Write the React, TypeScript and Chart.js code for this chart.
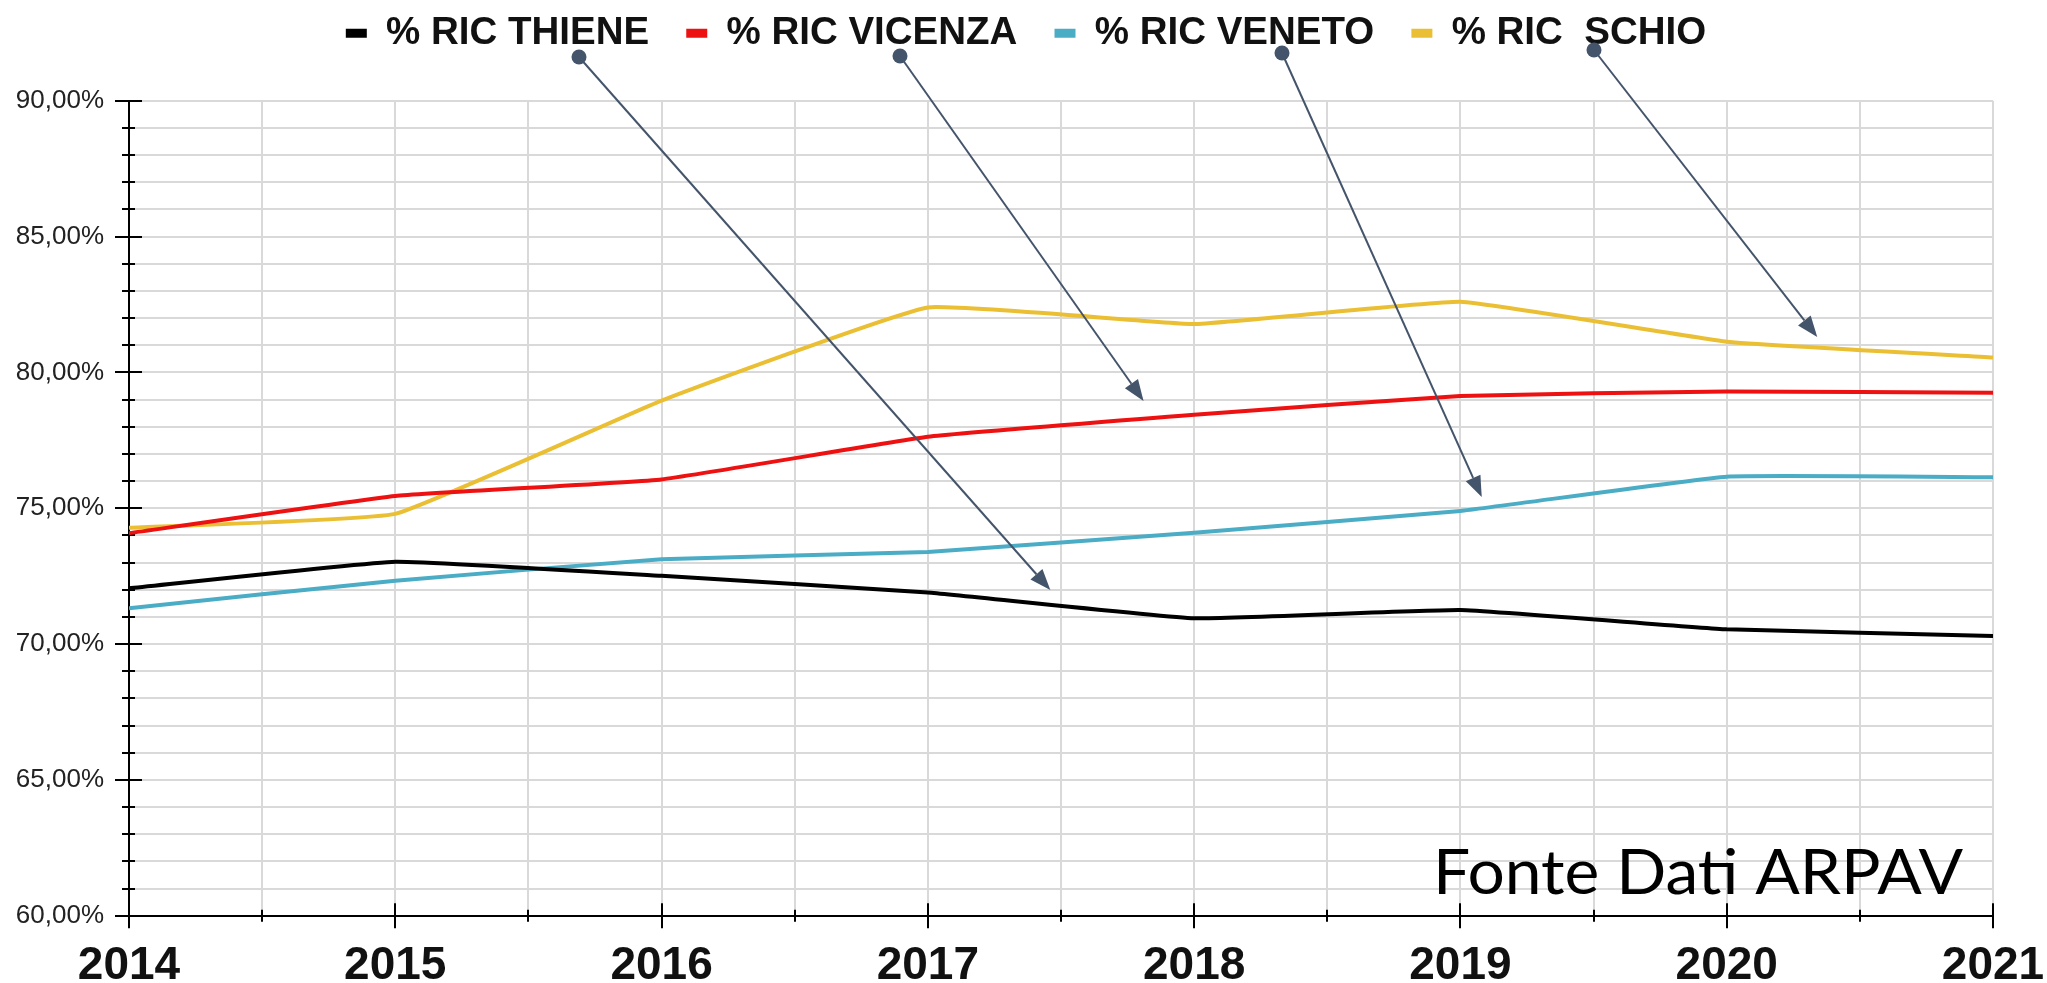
import React, { useEffect, useRef } from 'react';
import { Chart, registerables } from 'chart.js';

Chart.register(...registerables);

// ---- data ----
const years = [2014, 2015, 2016, 2017, 2018, 2019, 2020, 2021];
const seriesLabels = ['% RIC THIENE', '% RIC VICENZA', '% RIC VENETO', '% RIC  SCHIO'];
const thiene = [72.05, 73.03, 72.51, 71.9, 70.95, 71.25, 70.54, 70.3];
const vicenza = [74.08, 75.45, 76.06, 77.63, 78.44, 79.13, 79.3, 79.25];
const veneto = [71.32, 72.33, 73.12, 73.39, 74.1, 74.9, 76.16, 76.14];
const schio = [74.28, 74.79, 78.96, 82.39, 81.78, 82.6, 81.13, 80.55];
const seriesColors = ['#000000', '#ee1111', '#4bacc6', '#ebbf33'];
const yMin = 60;
const yMax = 90;
const sourceNote = 'Fonte Dati ARPAV';
// annotation arrows: start dot (canvas px, below legend), tip in data coords [year, %]
const arrowStarts = [[579, 57], [900, 56], [1282, 53], [1594, 50]];
const arrowTips = [[2017.46, 71.99], [2017.81, 78.95], [2019.08, 75.41], [2020.34, 81.3]];

const allSeries = [thiene, vicenza, veneto, schio];

const FONT = "'Liberation Sans', Arial, Helvetica, sans-serif";
const PLOT_TOP = 100.7;
const PLOT_LEFT = 129;
const PLOT_RIGHT_MARGIN = 54;
const PAD = { top: 9, left: 5, right: 0, bottom: 0 };

const axisTicksPlugin = {
  id: 'axisTicks',
  beforeDatasetsDraw(chart: any) {
    const { ctx, scales, chartArea } = chart;
    const x = scales.x;
    const y = scales.y;
    ctx.save();
    ctx.strokeStyle = '#000';
    ctx.lineWidth = 2;
    for (let v = yMin; v <= yMax; v += 1) {
      const py = Math.round(y.getPixelForValue(v));
      const major = v % 5 === 0;
      const l = major ? 14 : 7;
      const r = major ? 13 : 6;
      ctx.beginPath();
      ctx.moveTo(chartArea.left - l, py);
      ctx.lineTo(chartArea.left + r, py);
      ctx.stroke();
    }
    const first = years[0];
    const last = years[years.length - 1];
    for (let v = first; v <= last + 1e-9; v += 0.5) {
      const px = Math.round(x.getPixelForValue(v));
      const major = Number.isInteger(v);
      const h = major ? 12.5 : 6;
      ctx.beginPath();
      ctx.moveTo(px, chartArea.bottom - h);
      ctx.lineTo(px, chartArea.bottom + h);
      ctx.stroke();
    }
    ctx.restore();
  },
};

const annotationsPlugin = {
  id: 'arrowsAndNote',
  afterDatasetsDraw(chart: any) {
    const { ctx, scales, chartArea } = chart;
    const x = scales.x;
    const y = scales.y;
    ctx.save();
    const col = '#44546a';
    ctx.strokeStyle = col;
    ctx.fillStyle = col;
    ctx.lineWidth = 2;
    for (let i = 0; i < arrowStarts.length; i++) {
      const [sx, sy] = arrowStarts[i];
      const tx = x.getPixelForValue(arrowTips[i][0]);
      const ty = y.getPixelForValue(arrowTips[i][1]);
      const ang = Math.atan2(ty - sy, tx - sx);
      const headLen = 21;
      const headHalf = 8;
      const bx = tx - headLen * Math.cos(ang);
      const by = ty - headLen * Math.sin(ang);
      ctx.beginPath();
      ctx.moveTo(sx, sy);
      ctx.lineTo(bx, by);
      ctx.stroke();
      ctx.beginPath();
      ctx.moveTo(tx, ty);
      ctx.lineTo(bx + headHalf * Math.sin(ang), by - headHalf * Math.cos(ang));
      ctx.lineTo(bx - headHalf * Math.sin(ang), by + headHalf * Math.cos(ang));
      ctx.closePath();
      ctx.fill();
      ctx.beginPath();
      ctx.arc(sx, sy, 7.5, 0, Math.PI * 2);
      ctx.fill();
    }
    // source note
    ctx.font = "62px Lato, 'Open Sans', sans-serif";
    ctx.fillStyle = '#000';
    ctx.textBaseline = 'alphabetic';
    ctx.textAlign = 'left';
    const w = ctx.measureText(sourceNote).width;
    const target = 530;
    ctx.translate(chartArea.right - 30 - target, chartArea.bottom - 21.5);
    ctx.scale(target / w, 1);
    ctx.fillText(sourceNote, 0, 0);
    ctx.restore();
  },
};

export default function App() {
  const canvasRef = useRef<HTMLCanvasElement | null>(null);

  useEffect(() => {
    const canvas = canvasRef.current;
    if (!canvas) return;
    const chart = new Chart(canvas, {
      type: 'line',
      data: {
        datasets: allSeries.map((vals, i) => ({
          label: seriesLabels[i],
          data: years.map((yr, j) => ({ x: yr, y: vals[j] })),
          borderColor: seriesColors[i],
          backgroundColor: seriesColors[i],
          borderWidth: 4,
          pointRadius: 0,
          pointHoverRadius: 0,
          tension: 0.1,
          fill: false,
        })),
      },
      options: {
        responsive: false,
        animation: false,
        devicePixelRatio: 1,
        layout: { padding: PAD },
        plugins: {
          tooltip: { enabled: false },
          legend: {
            display: true,
            position: 'top',
            align: 'center',
            labels: {
              boxWidth: 21,
              boxHeight: 9,
              padding: 5,
              color: '#111',
              font: { family: FONT, size: 38.5, weight: 'bold' },
              generateLabels: (ch: any) =>
                ch.data.datasets.map((ds: any, i: number, arr: any[]) => ({
                  text: ds.label + (i < arr.length - 1 ? '   ' : ''),
                  fillStyle: ds.borderColor,
                  strokeStyle: ds.borderColor,
                  lineWidth: 0,
                  hidden: false,
                  datasetIndex: i,
                  fontColor: '#111',
                })),
            },
          },
        },
        scales: {
          x: {
            type: 'linear',
            position: 'bottom',
            min: years[0],
            max: years[years.length - 1],
            offset: false,
            afterFit: (s: any) => {
              s.height = 983 - 915.7;
              s.paddingLeft = 0;
              s.paddingRight = PLOT_RIGHT_MARGIN - PAD.right;
            },
            grid: { color: '#d9d9d9', lineWidth: 2, drawTicks: false },
            border: { display: true, color: '#000', width: 2 },
            ticks: {
              stepSize: 0.5,
              autoSkip: false,
              maxRotation: 0,
              minRotation: 0,
              maxTicksLimit: 100,
              padding: 23,
              color: '#111',
              font: { family: FONT, size: 46, weight: 'bold' },
              callback: (v: any) => (Number.isInteger(Number(v)) ? String(v) : ''),
            },
          },
          xTop: {
            type: 'linear',
            position: 'top',
            display: true,
            afterFit: (s: any) => {
              const lg = s.chart.legend;
              const lh = lg ? lg.height : 0;
              s.height = Math.max(0, PLOT_TOP - PAD.top - lh);
              s.paddingLeft = 0;
              s.paddingRight = 0;
            },
            grid: { display: false, drawTicks: false },
            border: { display: false },
            ticks: { display: false },
          },
          y: {
            type: 'linear',
            min: yMin,
            max: yMax,
            afterFit: (s: any) => {
              s.width = PLOT_LEFT - PAD.left;
            },
            grid: { color: '#d9d9d9', lineWidth: 2, drawTicks: false },
            border: { display: true, color: '#000', width: 2 },
            ticks: {
              stepSize: 1,
              autoSkip: false,
              maxTicksLimit: 100,
              padding: 25,
              color: '#222',
              font: { family: FONT, size: 26 },
              callback: (v: any) => {
                const n = Number(v);
                return n % 5 === 0 ? n.toFixed(2).replace('.', ',') + '%' : '';
              },
            },
          },
        },
      } as any,
      plugins: [axisTicksPlugin, annotationsPlugin],
    });
    return () => {
      chart.destroy();
    };
  }, []);

  return (
    <div style={{ position: 'absolute', left: 0, top: 0, width: 2047, height: 983, background: '#fff' }}>
      <canvas ref={canvasRef} width={2047} height={983} style={{ display: 'block', width: 2047, height: 983 }} />
    </div>
  );
}
